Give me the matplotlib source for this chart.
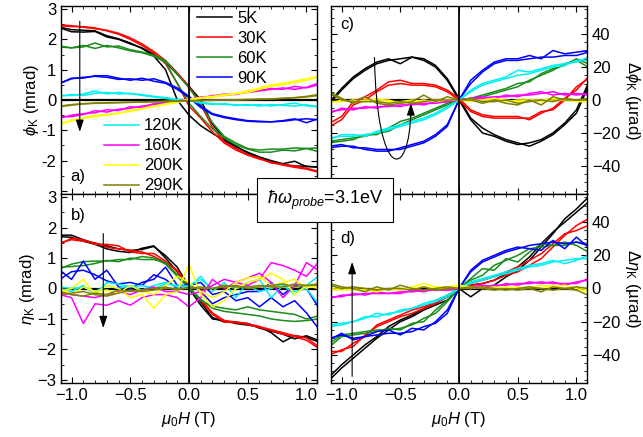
import numpy as np
import matplotlib
matplotlib.use('Agg')
import matplotlib.pyplot as plt
from matplotlib.path import Path
from matplotlib.patches import PathPatch
from matplotlib.ticker import MultipleLocator

plt.rcParams['font.family'] = ['Liberation Sans', 'DejaVu Sans']
plt.rcParams['mathtext.fontset'] = 'custom'
plt.rcParams['mathtext.rm'] = 'Liberation Sans'
plt.rcParams['mathtext.it'] = 'Liberation Sans:italic'
plt.rcParams['font.size'] = 12

# applied field (T)
field = [-1.1, -1.0, -0.9, -0.8, -0.7, -0.6, -0.5, -0.4, -0.3, -0.2, -0.1, 0.0,
         0.1, 0.2, 0.3, 0.4, 0.5, 0.6, 0.7, 0.8, 0.9, 1.0, 1.1]

temps = ['5K', '30K', '60K', '90K', '120K', '160K', '200K', '290K']
colors = ['#000000', '#ff0000', '#1a8c1a', '#0000ff', '#00f0f0', '#ff00ff', '#ffff00', '#808000']

# Kerr rotation phi_K (mrad), two sweep directions
phi_dn = {
    '5K':   [2.40, 2.32, 2.30, 2.28, 2.12, 2.02, 1.88, 1.70, 1.45, 1.00, 0.00, -0.50, -0.85, -1.10, -1.33, -1.55, -1.72, -1.88, -2.00, -2.10, -2.02, -2.20, -2.20],
    '30K':  [2.45, 2.42, 2.42, 2.38, 2.28, 2.17, 2.00, 1.80, 1.55, 1.20, 0.55, -0.20, -0.60, -1.05, -1.42, -1.65, -1.82, -1.95, -2.05, -2.15, -2.22, -2.28, -2.38],
    '60K':  [1.78, 1.72, 1.80, 1.70, 1.80, 1.72, 1.62, 1.56, 1.44, 1.25, 0.55, -0.10, -0.55, -0.95, -1.25, -1.48, -1.62, -1.72, -1.72, -1.65, -1.68, -1.60, -1.70],
    '90K':  [0.55, 0.70, 0.75, 0.78, 0.75, 0.68, 0.70, 0.65, 0.70, 0.58, 0.40, 0.12, -0.20, -0.45, -0.55, -0.62, -0.68, -0.70, -0.72, -0.70, -0.65, -0.62, -0.65],
    '120K': [0.15, 0.15, 0.20, 0.30, 0.20, 0.25, 0.20, 0.18, 0.12, 0.08, 0.02, 0.00, -0.08, -0.12, -0.15, -0.15, -0.18, -0.15, -0.20, -0.15, -0.10, -0.20, -0.20],
    '160K': [-0.55, -0.55, -0.48, -0.35, -0.40, -0.30, -0.28, -0.20, -0.15, -0.10, -0.05, 0.00, 0.05, 0.15, 0.15, 0.20, 0.25, 0.30, 0.35, 0.40, 0.35, 0.42, 0.55],
    '200K': [-0.85, -0.65, -0.60, -0.55, -0.50, -0.42, -0.38, -0.30, -0.22, -0.15, -0.08, 0.00, 0.05, 0.10, 0.15, 0.20, 0.25, 0.35, 0.45, 0.50, 0.58, 0.65, 0.75],
    '290K': [-0.20, -0.15, -0.12, -0.10, -0.09, -0.08, -0.07, -0.06, -0.05, -0.04, -0.03, -0.02, -0.01, 0.00, 0.00, 0.01, 0.02, 0.03, 0.04, 0.05, 0.07, 0.10, 0.15],
}
phi_up = {
    '5K':   [2.38, 2.25, 2.24, 2.26, 2.08, 2.00, 1.85, 1.72, 1.50, 1.25, 0.85, 0.45, 0.00, -0.80, -1.28, -1.52, -1.75, -1.90, -2.02, -2.12, -2.18, -2.18, -2.22],
    '30K':  [2.48, 2.45, 2.40, 2.35, 2.30, 2.20, 2.05, 1.85, 1.60, 1.30, 0.90, 0.45, -0.15, -0.90, -1.38, -1.60, -1.80, -1.92, -2.08, -2.12, -2.18, -2.25, -2.35],
    '60K':  [1.75, 1.72, 1.75, 1.88, 1.75, 1.78, 1.66, 1.58, 1.48, 1.30, 0.85, 0.40, -0.15, -0.75, -1.20, -1.42, -1.60, -1.65, -1.62, -1.62, -1.58, -1.60, -1.58],
    '90K':  [0.55, 0.72, 0.72, 0.80, 0.80, 0.72, 0.65, 0.72, 0.62, 0.55, 0.35, 0.08, -0.25, -0.48, -0.58, -0.65, -0.70, -0.72, -0.72, -0.68, -0.62, -0.75, -0.62],
    '120K': [0.12, 0.18, 0.15, 0.22, 0.25, 0.20, 0.22, 0.15, 0.10, 0.05, 0.00, -0.02, -0.10, -0.15, -0.12, -0.18, -0.15, -0.20, -0.15, -0.18, -0.20, -0.15, -0.25],
    '160K': [-0.60, -0.50, -0.45, -0.42, -0.32, -0.35, -0.22, -0.25, -0.12, -0.08, -0.03, 0.02, 0.10, 0.12, 0.20, 0.18, 0.28, 0.32, 0.38, 0.35, 0.45, 0.40, 0.50],
    '200K': [-0.75, -0.70, -0.58, -0.50, -0.48, -0.45, -0.32, -0.28, -0.20, -0.12, -0.05, 0.02, 0.08, 0.12, 0.18, 0.22, 0.30, 0.40, 0.50, 0.55, 0.62, 0.70, 0.78],
    '290K': [-0.22, -0.17, -0.13, -0.11, -0.10, -0.09, -0.08, -0.07, -0.06, -0.05, -0.04, -0.03, -0.02, -0.01, 0.00, 0.00, 0.01, 0.02, 0.03, 0.06, 0.08, 0.12, 0.18],
}

# Kerr ellipticity eta_K (mrad)
eta_dn = {
    '5K':   [1.75, 1.75, 1.60, 1.48, 1.40, 1.30, 1.25, 1.28, 1.38, 1.08, 0.70, 0.05, -0.45, -0.95, -1.10, -1.10, -1.15, -1.30, -1.40, -1.50, -1.65, -1.55, -1.70],
    '30K':  [1.45, 1.65, 1.60, 1.45, 1.45, 1.40, 1.20, 1.15, 1.15, 0.90, 0.55, 0.00, -0.35, -0.80, -1.05, -1.10, -1.15, -1.25, -1.35, -1.45, -1.55, -1.62, -1.90],
    '60K':  [0.65, 0.80, 0.88, 0.90, 0.90, 0.95, 0.95, 1.05, 1.00, 0.80, 0.40, 0.00, -0.40, -0.58, -0.65, -0.70, -0.60, -0.70, -0.75, -0.80, -0.85, -1.00, -0.90],
    '90K':  [0.60, 0.30, 0.90, 0.30, 0.60, 0.05, 0.00, 0.20, 0.30, 0.70, 0.10, 0.10, 0.20, -0.20, -0.10, -0.40, -0.30, -0.60, -0.30, -0.60, -0.40, -0.80, -1.30],
    '120K': [0.00, -0.10, 0.10, -0.20, 0.20, 0.15, 0.05, 0.10, 0.00, 0.15, 0.10, 0.05, 0.40, -0.10, 0.20, -0.30, 0.20, 0.30, -0.30, 0.10, -0.20, 0.10, 0.40],
    '160K': [-0.20, -0.30, -1.15, -0.50, -0.55, -0.40, -0.55, -0.30, -0.20, -0.20, -0.30, -0.60, -0.30, 0.30, 0.00, 0.20, 0.10, 0.30, 0.85, 0.75, 0.60, 0.40, 0.85],
    '200K': [-0.10, 0.00, 0.30, -0.20, 0.10, 0.00, -0.30, -0.20, -0.65, -0.20, -0.10, 0.80, -0.20, -0.60, -0.40, 0.00, 0.20, 0.30, 0.50, 0.30, -0.20, 0.10, 0.00],
    '290K': [-0.10, -0.20, -0.25, -0.15, -0.20, -0.05, -0.10, -0.05, 0.00, 0.05, -0.05, 0.05, 0.00, 0.00, 0.05, 0.10, 0.00, 0.05, 0.10, 0.15, 0.05, 0.10, 0.10],
}
eta_up = {
    '5K':   [1.70, 1.68, 1.55, 1.45, 1.30, 1.22, 1.18, 1.32, 1.40, 1.00, 0.55, 0.00, -0.55, -1.00, -1.05, -1.15, -1.20, -1.25, -1.45, -1.75, -1.55, -1.60, -1.75],
    '30K':  [1.50, 1.60, 1.55, 1.50, 1.35, 1.30, 1.25, 1.20, 1.05, 0.85, 0.60, 0.05, -0.40, -0.85, -1.10, -1.12, -1.18, -1.28, -1.38, -1.50, -1.58, -1.70, -1.95],
    '60K':  [0.70, 0.72, 0.75, 0.82, 0.92, 0.88, 1.00, 0.95, 0.95, 0.85, 0.45, 0.05, -0.35, -0.65, -0.75, -0.80, -0.85, -0.90, -1.00, -1.05, -1.08, -1.05, -1.00],
    '90K':  [0.30, 0.55, 0.60, 0.45, 0.25, 0.15, 0.20, 0.10, 0.45, 0.30, 0.00, 0.15, -0.10, -0.50, -0.30, -0.20, -0.10, -0.10, 0.20, -0.20, 0.10, 0.00, -0.60],
    '120K': [0.05, 0.00, 0.05, -0.10, 0.10, 0.00, 0.10, -0.05, 0.10, 0.20, 0.05, 0.10, 0.30, 0.00, 0.10, 0.00, 0.10, -0.10, 0.00, 0.15, -0.10, 0.00, -0.50],
    '160K': [-0.15, -0.20, -0.25, -0.30, -0.20, -0.10, -0.20, -0.05, 0.05, -0.10, -0.10, -0.20, -0.10, 0.10, 0.30, 0.20, 0.35, 0.50, 0.20, -0.30, 0.10, 0.85, 0.60],
    '200K': [0.00, -0.20, 0.05, -0.10, -0.05, -0.15, 0.10, -0.10, -0.20, 0.10, 0.40, 0.20, -0.10, -0.30, -0.10, 0.20, 0.35, 0.40, 0.10, 0.20, 0.30, 0.00, 0.20],
    '290K': [-0.20, -0.15, -0.10, -0.20, -0.25, -0.15, -0.05, -0.10, -0.05, 0.00, 0.00, 0.00, 0.05, 0.00, 0.10, 0.05, 0.05, 0.10, 0.05, 0.05, 0.15, 0.10, 0.15],
}

# change of Kerr rotation, Delta phi_K (urad)
dphi_dn = {
    '5K':   [-2, 6, 13, 18, 22, 24, 25, 26, 24, 20, 12, 0, -12, -20, -22, -25, -27, -26, -24, -20, -14, -6, 10],
    '30K':  [-16, -12, -3, 0, 5, 9, 10, 9, 9, 8, 5, 0, -7, -10, -11, -11, -11, -11, -7, -6, 0, 8, 13],
    '60K':  [-25, -24, -23, -22, -20, -19, -15, -12, -9, -6, -3, 0, 1, 2, 4, 6, 8, 12, 15, 18, 22, 24, 20],
    '90K':  [-28, -27, -29, -29, -30, -30, -30, -28, -26, -22, -16, 0, 10, 17, 22, 24, 24, 25, 26, 26, 27, 27, 29],
    '120K': [-23, -22, -22, -21, -20, -18, -16, -14, -12, -9, -5, 0, 5, 9, 11, 13, 15, 16, 18, 20, 21, 24, 24],
    '160K': [-7, -6, -5, -5, -4, -4, -3, -3, -2, -2, -1, 0, 1, 1, 2, 2, 3, 3, 4, 5, 3, 4, 3],
    '200K': [-1, -1, 0, -1, 1, -1, -1, 0, -1, 0, 0, 0, 0, 0, 1, 0, -1, 0, 0, 1, 0, 0, 0],
    '290K': [5, 1, -2, 2, -2, -3, -2, -1, 3, -1, 2, 0, 0, -2, 0, -2, -3, 0, -3, 2, 0, 0, 0],
}
dphi_up = {
    '5K':   [-1, 7, 14, 19, 23, 25, 22, 26, 25, 21, 13, 1, -11, -17, -21, -24, -26, -28, -25, -21, -15, -8, 8],
    '30K':  [-14, -10, -1, 2, 6, 11, 12, 10, 10, 9, 6, 1, -6, -9, -10, -10, -10, -12, -8, -5, 1, 6, 14],
    '60K':  [-26, -25, -24, -21, -21, -17, -13, -11, -8, -5, -2, 0, 1, 3, 5, 7, 10, 11, 16, 19, 21, 25, 22],
    '90K':  [-29, -28, -28, -30, -31, -31, -29, -27, -25, -21, -15, 0, 12, 18, 23, 25, 25, 27, 25, 30, 28, 29, 30],
    '120K': [-24, -21, -21, -22, -19, -17, -15, -13, -11, -8, -4, 0, 6, 10, 12, 14, 18, 17, 19, 21, 22, 23, 26],
    '160K': [-8, -5, -6, -4, -5, -3, -4, -2, -3, -1, -1, 0, 1, 2, 1, 3, 2, 4, 5, 3, 4, 3, 4],
    '200K': [-2, 0, -1, 0, 0, 0, -2, -1, 0, -1, 0, 0, -1, 0, 0, -1, 0, 0, -1, 0, 0, -1, -1],
    '290K': [4, 0, -1, -1, -1, -2, -1, -2, -1, 0, 0, 0, 1, -1, -1, 0, -2, -1, 0, -1, 1, 0, 1],
}

# change of Kerr ellipticity, Delta eta_K (urad)
deta_dn = {
    '5K':   [-55, -48, -42, -36, -30, -25, -20, -17, -13, -10, -7, 0, -5, 0, 2, 7, 11, 17, 25, 33, 42, 48, 55],
    '30K':  [-40, -37, -35, -28, -23, -20, -17, -15, -12, -9, -5, 0, 2, 3, 5, 8, 10, 14, 18, 25, 32, 38, 42],
    '60K':  [-33, -28, -27, -26, -25, -25, -24, -22, -18, -15, -8, 0, 5, 8, 14, 17, 20, 24, 25, 26, 28, 26, 22],
    '90K':  [-30, -28, -30, -29, -28, -27, -27, -26, -23, -21, -15, 0, 10, 16, 19, 22, 24, 26, 27, 28, 27, 28, 26],
    '120K': [-22, -21, -20, -17, -17, -15, -14, -12, -10, -8, -5, 0, 3, 5, 7, 9, 11, 13, 14, 16, 17, 18, 18],
    '160K': [-6, -4, -4, -3, -3, -3, -2, -2, -1, -1, -1, 0, 1, 1, 2, 2, 3, 3, 4, 3, 3, 3, 6],
    '200K': [0, -1, 0, -1, -2, 0, -1, 1, 3, 1, 1, 2, 1, 0, 1, 0, 1, 0, 2, 1, 2, 0, -2],
    '290K': [3, 1, 0, -2, 1, -1, 2, 0, -1, 0, 1, 0, 1, 0, -1, 0, -1, 0, -2, 1, 0, -1, -4],
}
deta_up = {
    '5K':   [-53, -46, -40, -34, -29, -23, -19, -16, -12, -9, -5, 0, 2, 3, 5, 9, 13, 19, 27, 34, 40, 46, 52],
    '30K':  [-38, -38, -33, -29, -22, -19, -16, -13, -11, -8, -4, 0, 3, 5, 7, 10, 13, 17, 21, 27, 33, 35, 38],
    '60K':  [-35, -29, -28, -27, -26, -24, -25, -21, -20, -13, -7, 0, 6, 12, 11, 18, 16, 22, 27, 26, 26, 28, 27],
    '90K':  [-31, -27, -31, -29, -26, -25, -28, -24, -25, -20, -13, 0, 11, 17, 20, 23, 25, 24, 23, 29, 24, 31, 25],
    '120K': [-23, -22, -20, -18, -15, -16, -13, -12, -9, -7, -4, 0, 4, 6, 8, 10, 12, 14, 15, 17, 15, 17, 20],
    '160K': [-5, -5, -3, -4, -2, -3, -3, -1, -2, 0, -1, 0, 1, 2, 1, 3, 2, 4, 3, 4, 2, 4, 5],
    '200K': [-1, 0, -1, -1, 0, -1, 0, 0, 1, 0, 0, 1, 0, 1, 0, 1, 0, 1, 0, 2, 0, 1, -1],
    '290K': [2, 0, 1, 0, -1, 0, 0, -1, 1, -1, 0, 0, 0, 1, 0, -1, 0, 1, 0, -1, 0, 1, 0],
}

fig = plt.figure(figsize=(6.43, 4.37), dpi=100)
W, H = 643, 437


def box(x0, y0, x1, y1):
    return [x0 / W, 1 - y1 / H, (x1 - x0) / W, (y1 - y0) / H]


ax_a = fig.add_axes(box(61, 6, 317, 194))
ax_b = fig.add_axes(box(61, 194, 317, 383))
ax_c = fig.add_axes(box(331, 6, 587, 194))
ax_d = fig.add_axes(box(331, 194, 587, 383))

panels = [(ax_a, phi_dn, phi_up), (ax_b, eta_dn, eta_up),
          (ax_c, dphi_dn, dphi_up), (ax_d, deta_dn, deta_up)]

handles = []
for ax, dn, up in panels:
    for t, c in zip(temps, colors):
        ln, = ax.plot(field, dn[t], color=c, lw=1.1, zorder=2)
        ax.plot(field, up[t], color=c, lw=1.1, zorder=2)
        if ax is ax_a:
            handles.append(ln)
    ax.axhline(0, color='k', lw=1.6, zorder=1.5)
    ax.axvline(0, color='k', lw=1.3, zorder=3)
    ax.set_xlim(-1.09, 1.09)
    ax.xaxis.set_major_locator(MultipleLocator(0.5))
    ax.xaxis.set_minor_locator(MultipleLocator(0.1))
    ax.tick_params(which='both', direction='in', top=True, right=True, left=True, bottom=True)
    ax.tick_params(which='major', length=4, width=0.8)
    ax.tick_params(which='minor', length=2, width=0.6)
    for s in ax.spines.values():
        s.set_linewidth(1.0)

for ax in (ax_a, ax_b):
    ax.set_ylim(-3.1, 3.1)
    ax.yaxis.set_major_locator(MultipleLocator(1))
    ax.yaxis.set_minor_locator(MultipleLocator(0.5))
for ax in (ax_c, ax_d):
    ax.set_ylim(-57, 57)
    ax.yaxis.set_major_locator(MultipleLocator(20))
    ax.yaxis.set_minor_locator(MultipleLocator(5))
    ax.tick_params(labelleft=False, labelright=True)
    ax.yaxis.set_label_position('right')

ax_a.set_yticks([-3, -2, -1, 0, 1, 2, 3])
ax_a.set_yticklabels(['', '-2', '-1', '0', '1', '2', '3'])
for ax in (ax_a, ax_c):
    ax.tick_params(labelbottom=False)

ax_a.set_ylabel(r'$\phi_{\rm K}$ (mrad)', labelpad=0)
ax_b.set_ylabel(r'$\eta_{\rm K}$ (mrad)', labelpad=0)
ax_c.set_ylabel(r'$\Delta\phi_{\rm K}$ (µrad)', rotation=270, labelpad=16)
ax_d.set_ylabel(r'$\Delta\eta_{\rm K}$ (µrad)', rotation=270, labelpad=16)
ax_b.set_xlabel(r'$\mu_0H$ (T)', labelpad=5)
ax_d.set_xlabel(r'$\mu_0H$ (T)', labelpad=5)

# panel tags
ax_a.text(0.035, 0.07, 'a)', transform=ax_a.transAxes)
ax_b.text(0.04, 0.86, 'b)', transform=ax_b.transAxes)
ax_c.text(0.035, 0.88, 'c)', transform=ax_c.transAxes)
ax_d.text(0.035, 0.74, 'd)', transform=ax_d.transAxes)

# temperature legends
leg_kw = dict(loc='upper left', frameon=False, handlelength=2.1, handletextpad=0.3,
              labelspacing=0.3, borderaxespad=0, borderpad=0.2)
leg1 = ax_a.legend(handles[:4], temps[:4], bbox_to_anchor=(0.518, 0.99), **leg_kw)
ax_a.add_artist(leg1)
ax_a.legend(handles[4:], temps[4:], bbox_to_anchor=(0.155, 0.42), **leg_kw)

# temperature arrows
arrow = dict(arrowstyle='-|>,head_length=0.6,head_width=0.2', color='k', lw=0.8,
             shrinkA=0, shrinkB=0)
ax_a.annotate('', xy=(-0.93, -1.05), xytext=(-0.93, 2.6), arrowprops=arrow)
ax_b.annotate('', xy=(-0.73, -1.3), xytext=(-0.73, 1.8), arrowprops=arrow)
ax_d.annotate('', xy=(-0.91, 16), xytext=(-0.91, -53), arrowprops=arrow)
loop = Path([(-0.72, 26), (-0.70, -50), (-0.42, -50), (-0.41, -6)],
            [Path.MOVETO, Path.CURVE4, Path.CURVE4, Path.CURVE4])
ax_c.add_patch(PathPatch(loop, fill=False, ec='k', lw=0.8, zorder=4))
ax_c.annotate('', xy=(-0.41, -2), xytext=(-0.41, -10), arrowprops=arrow, zorder=4)

fig.text(325 / W, 1 - 200 / H, r'$\hbar\omega_{probe}$=3.1eV', ha='center', va='center',
         fontsize=13, bbox=dict(boxstyle='square,pad=0.55', fc='white', ec='k', lw=0.8))

fig.savefig('out.png', dpi=100)
